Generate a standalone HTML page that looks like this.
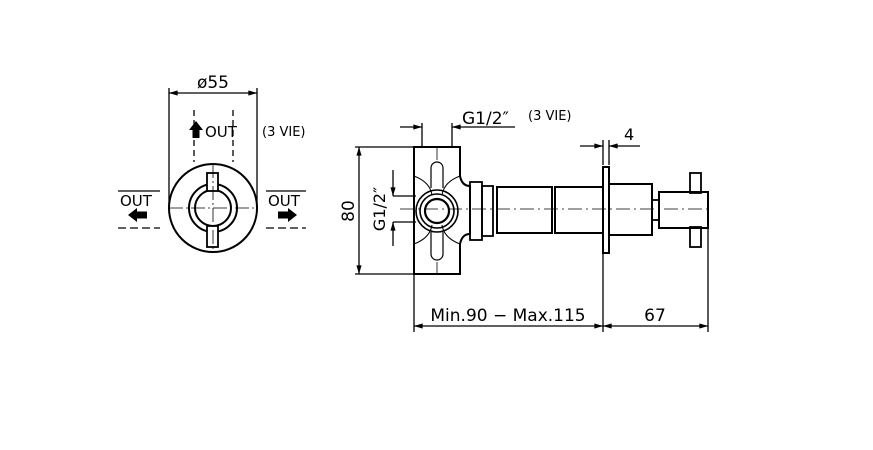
<!DOCTYPE html>
<html><head><meta charset="utf-8"><style>
html,body{margin:0;padding:0;background:#fff}
svg{display:block}
text{font-family:"DejaVu Sans","Liberation Sans",sans-serif;fill:#000}
</style></head><body>
<svg width="873" height="450" viewBox="0 0 873 450" xmlns="http://www.w3.org/2000/svg">
<defs>
<marker id="a" viewBox="0 0 10 6" refX="10" refY="3" markerWidth="8" markerHeight="4" orient="auto-start-reverse"><path d="M0,0L10,3L0,6z" fill="#000"/></marker>
</defs>
<g stroke="#000" fill="none" stroke-width="1.3">
<!-- LEFT VIEW -->
<line x1="169" y1="88" x2="169" y2="208"/>
<line x1="257" y1="88" x2="257" y2="208"/>
<line x1="169" y1="93" x2="257" y2="93" marker-start="url(#a)" marker-end="url(#a)"/>
<line x1="194" y1="110" x2="194" y2="162" stroke-dasharray="6,4"/>
<line x1="233" y1="110" x2="233" y2="162" stroke-dasharray="6,4"/>
<circle cx="213" cy="208" r="44" stroke-width="2"/>
<circle cx="213" cy="208" r="24" stroke-width="2"/>
<circle cx="213" cy="208" r="18" stroke-width="2"/>
<rect x="207" y="173" width="11" height="18" fill="#fff" stroke-width="1.8"/>
<rect x="207" y="226" width="11" height="21" fill="#fff" stroke-width="1.8"/>
<line x1="169" y1="208" x2="257" y2="208" stroke-dasharray="14,3,2,3" stroke-width="0.8"/>
<line x1="213" y1="164" x2="213" y2="252" stroke-dasharray="14,3,2,3" stroke-width="0.8"/>
<line x1="118" y1="191" x2="160" y2="191"/>
<line x1="118" y1="228" x2="160" y2="228" stroke-dasharray="8,4"/>
<line x1="266" y1="191" x2="306" y2="191"/>
<line x1="266" y1="228" x2="306" y2="228" stroke-dasharray="8,4"/>
<!-- RIGHT VIEW -->
<path d="M414,147H460V176Q462,186 470,186V234Q462,234 460,244V274H414Z" stroke-width="2"/>
<path d="M414,176Q430,182 432,195M460,176Q444,182 442,195M414,244Q430,238 432,225M460,244Q444,238 442,225" stroke-width="1"/>
<path d="M431,188V168A6,6 0 0 1 443,168V188M431,232V254A6,6 0 0 0 443,254V232" stroke-width="1.2"/>
<line x1="437" y1="147" x2="437" y2="160" stroke-width="0.8"/>
<line x1="437" y1="262" x2="437" y2="274" stroke-width="0.8"/>
<circle cx="437" cy="211" r="21" stroke-width="1.6"/>
<circle cx="437" cy="211" r="17" stroke-width="1.6"/>
<circle cx="437" cy="211" r="12" stroke-width="2.2"/>
<rect x="470" y="182" width="12" height="58" stroke-width="1.8"/>
<rect x="482" y="186" width="11" height="50" stroke-width="1.8"/>
<rect x="497" y="187" width="55" height="46" stroke-width="2"/>
<rect x="555" y="187" width="48" height="46" stroke-width="2"/>
<rect x="603" y="167" width="6" height="86" stroke-width="2"/>
<rect x="609" y="184" width="43" height="51" stroke-width="2"/>
<rect x="652" y="200" width="7" height="20" stroke-width="1.8"/>
<rect x="659" y="192" width="49" height="36" stroke-width="2"/>
<rect x="690" y="173" width="11" height="20" stroke-width="1.8"/>
<rect x="690" y="227" width="11" height="20" stroke-width="1.8"/>
<line x1="400" y1="209" x2="712" y2="209" stroke-dasharray="14,4,2,4" stroke-width="0.8"/>
<!-- dims -->
<line x1="355" y1="147" x2="414" y2="147"/>
<line x1="355" y1="274" x2="414" y2="274"/>
<line x1="359" y1="147" x2="359" y2="274" marker-start="url(#a)" marker-end="url(#a)"/>
<line x1="393" y1="196" x2="416" y2="196"/>
<line x1="393" y1="222" x2="416" y2="222"/>
<line x1="393" y1="170" x2="393" y2="196" marker-end="url(#a)"/>
<line x1="393" y1="246" x2="393" y2="222" marker-end="url(#a)"/>
<line x1="422" y1="123" x2="422" y2="147"/>
<line x1="452" y1="123" x2="452" y2="147"/>
<line x1="400" y1="127" x2="422" y2="127" marker-end="url(#a)"/>
<line x1="515" y1="127" x2="452" y2="127" marker-end="url(#a)"/>
<line x1="603" y1="140" x2="603" y2="165"/>
<line x1="609" y1="140" x2="609" y2="165"/>
<line x1="580" y1="146" x2="603" y2="146" marker-end="url(#a)"/>
<line x1="640" y1="146" x2="609" y2="146" marker-end="url(#a)"/>
<line x1="414" y1="274" x2="414" y2="332"/>
<line x1="603" y1="253" x2="603" y2="332"/>
<line x1="708" y1="228" x2="708" y2="332"/>
<line x1="414" y1="326" x2="603" y2="326" marker-start="url(#a)" marker-end="url(#a)"/>
<line x1="603" y1="326" x2="708" y2="326" marker-start="url(#a)" marker-end="url(#a)"/>
</g>
<!-- arrows -->
<path d="M196,121L203,130H199.5V138H192.5V130H189Z" fill="#000"/>
<path d="M128,215L137,208V211.5H147V218.5H137V222Z" fill="#000"/>
<path d="M297,215L288,208V211.5H278V218.5H288V222Z" fill="#000"/>
<text x="213" y="88" font-size="17" text-anchor="middle">ø55</text>
<text x="205" y="137" font-size="15">OUT</text>
<text x="262" y="136" font-size="13">(3 VIE)</text>
<text x="120" y="206" font-size="15">OUT</text>
<text x="268" y="206" font-size="15">OUT</text>
<text x="462" y="124" font-size="17">G1/2″</text>
<text x="528" y="120" font-size="13">(3 VIE)</text>
<text x="624" y="140" font-size="16">4</text>
<text x="508" y="321" font-size="17" text-anchor="middle">Min.90 − Max.115</text>
<text x="655" y="321" font-size="17" text-anchor="middle">67</text>
<text transform="translate(354,211) rotate(-90)" font-size="17" text-anchor="middle">80</text>
<text transform="translate(385,209) rotate(-90)" font-size="16" text-anchor="middle">G1/2″</text>
</svg>
</body></html>
